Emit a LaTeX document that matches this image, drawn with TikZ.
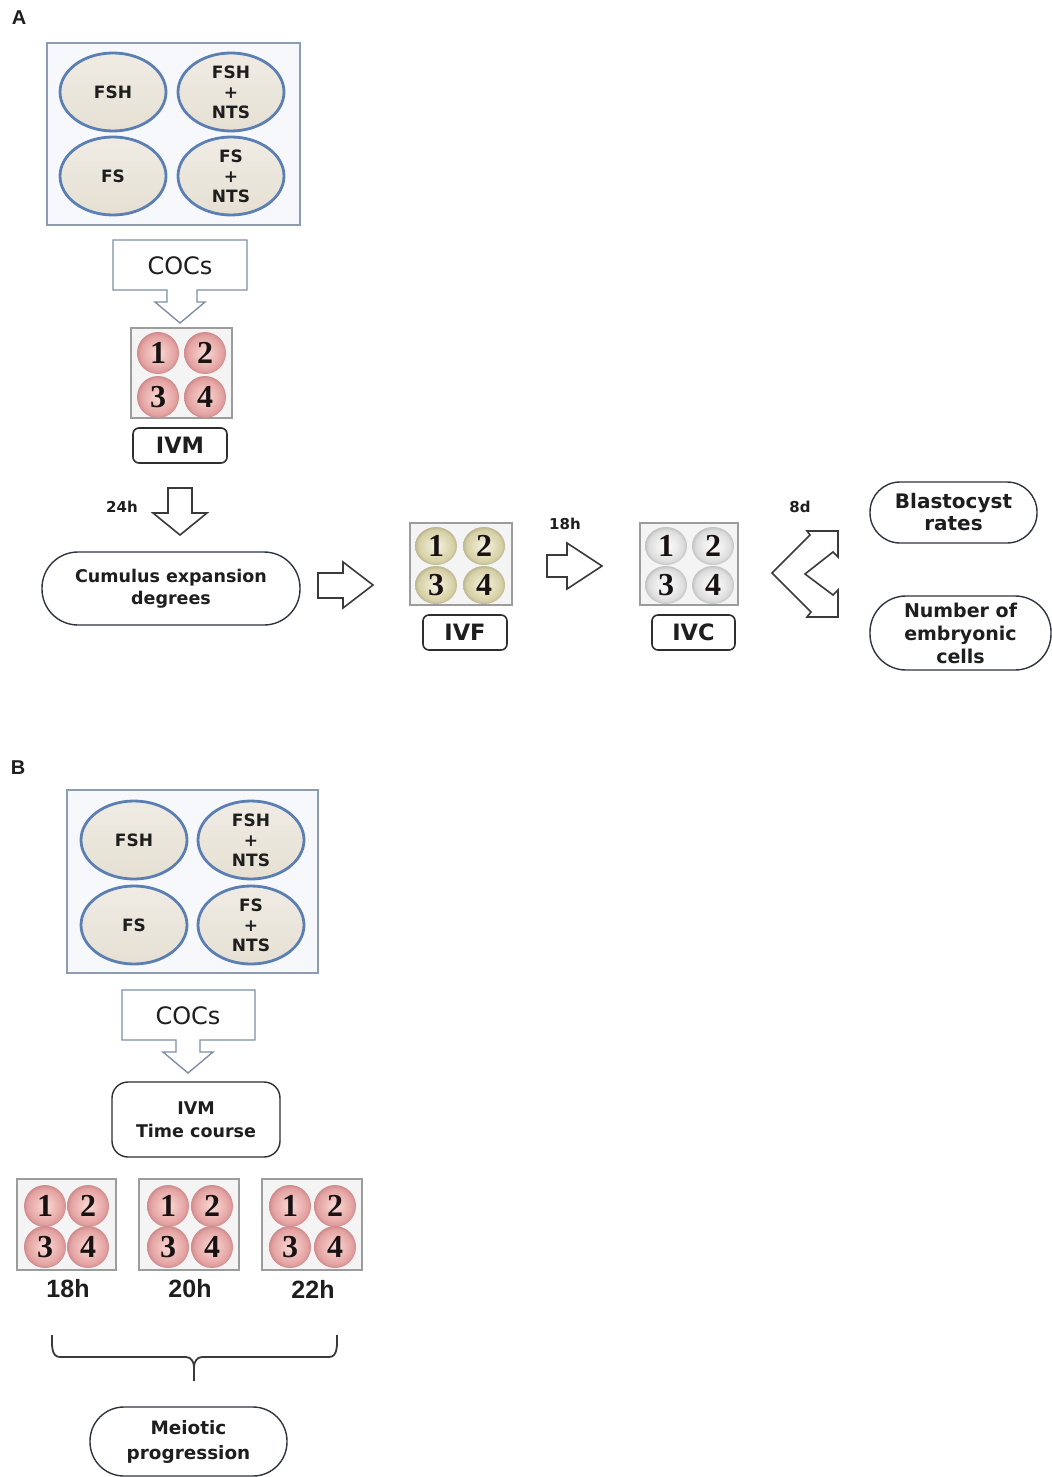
\documentclass[tikz,border=0pt]{standalone}
\usepackage{fontspec}
\setmainfont{DejaVu Sans}
\newfontfamily\dvs{DejaVu Sans}
\newfontfamily\lsans{Liberation Sans}
\newfontfamily\lser{Liberation Serif}
\usetikzlibrary{shapes.geometric}
\definecolor{txt}{HTML}{1E1E1E}
\definecolor{numc}{HTML}{1A1212}
\definecolor{pkA}{HTML}{F8DCD8}
\definecolor{pkB}{HTML}{EEBAB7}
\definecolor{pkC}{HTML}{E3A2A2}
\definecolor{pkD}{HTML}{CF8A8B}
\definecolor{olA}{HTML}{F5F3E6}
\definecolor{olB}{HTML}{E4DFBE}
\definecolor{olC}{HTML}{D6D0A6}
\definecolor{olD}{HTML}{BBB592}
\definecolor{gyA}{HTML}{FCFCFC}
\definecolor{gyB}{HTML}{EDEDED}
\definecolor{gyC}{HTML}{DCDCDC}
\definecolor{gyD}{HTML}{C2C2C2}
\definecolor{dishb}{HTML}{5B7FB3}
\definecolor{dishA}{HTML}{F0ECE5}
\definecolor{dishC}{HTML}{E6E0D3}
\definecolor{plb}{HTML}{8C9CB2}
\definecolor{plf}{HTML}{F6F8FB}
\definecolor{spb}{HTML}{9C9C9C}
\definecolor{spf}{HTML}{F4F4F4}
\definecolor{labb}{HTML}{2E2E2E}
\definecolor{stb}{HTML}{2F3440}
\definecolor{arb}{HTML}{3A3A3A}
\definecolor{cob}{HTML}{7F8FA6}
\pgfdeclareradialshading{pinkw}{\pgfpointorigin}{color(0bp)=(pkA); color(12bp)=(pkB); color(21bp)=(pkC); color(25bp)=(pkD); color(50bp)=(pkD)}
\pgfdeclareradialshading{olivew}{\pgfpointorigin}{color(0bp)=(olA); color(12bp)=(olB); color(21bp)=(olC); color(25bp)=(olD); color(50bp)=(olD)}
\pgfdeclareradialshading{grayw}{\pgfpointorigin}{color(0bp)=(gyA); color(12bp)=(gyB); color(21bp)=(gyC); color(25bp)=(gyD); color(50bp)=(gyD)}
\begin{document}
\begin{tikzpicture}[x=0.5pt,y=-0.5pt,
  tx/.style={inner sep=0pt,text=txt,align=center},
  dish/.style={ellipse,draw=dishb,line width=1.4pt,top color=dishA,bottom color=dishC,
    minimum width=53pt,minimum height=39pt,inner sep=0pt,align=center,text=txt,
    font=\dvs\bfseries\fontsize{8.5}{10}\selectfont},
  wellbase/.style={circle,minimum size=21pt,inner sep=0pt,text=numc,
    font=\lser\bfseries\fontsize{16}{16}\selectfont},
  pw/.style={wellbase,shading=pinkw},
  ow/.style={wellbase,ellipse,minimum width=21pt,minimum height=19pt,shading=olivew},
  gw/.style={wellbase,ellipse,minimum width=21pt,minimum height=19pt,shading=grayw},
  bigplate/.style={draw=plb,fill=plf,line width=0.8pt,inner sep=0pt},
  smallplate/.style={draw=spb,fill=spf,line width=0.6pt,inner sep=0pt},
  lab/.style={draw=labb,line width=0.8pt,rounded corners=3pt,fill=white,inner sep=0pt,
    minimum height=17.5pt,text=txt,font=\dvs\bfseries\fontsize{11.25}{12}\selectfont},
  stad/.style={draw=stb,line width=0.7pt,fill=white,inner sep=0pt,align=center,text=txt},
  barrow/.style={draw=arb,line width=0.8pt,fill=white,line join=miter},
  callout/.style={draw=cob,line width=0.7pt,fill=white,line join=miter},
  small/.style={tx,font=\dvs\bfseries\fontsize{7.5}{9}\selectfont},
  hours/.style={tx,font=\lsans\bfseries\fontsize{12.5}{14}\selectfont},
  coc/.style={tx,font=\dvs\fontsize{12}{14}\selectfont}
]
\useasboundingbox[fill=white] (0,0) rectangle (1052,1477);

% ================= A =================
\node[tx,font=\lsans\bfseries\fontsize{10}{12}\selectfont] (labA) at (19,18) {A};

\node[bigplate,minimum width=126.5pt,minimum height=91pt] (plA) at (173.5,134) {};
\node[dish] (a1) at (113,92) {FSH};
\node[dish] (a2) at (231,92) {FSH\\+\\NTS};
\node[dish] (a3) at (113,176) {FS};
\node[dish] (a4) at (231,176) {FS\\+\\NTS};

\draw[callout] (113,240) -- (247,240) -- (247,290) -- (197,290) -- (197,302) -- (205,302)
  -- (180,323) -- (155,302) -- (167,302) -- (167,290) -- (113,290) -- cycle;
\node[coc] (cocA) at (180,266) {COCs};

\node[smallplate,minimum width=50.5pt,minimum height=45pt] (ivmp) at (181.5,373) {};
\node[pw] (m1) at (158,353) {1};
\node[pw] (m2) at (205,353) {2};
\node[pw] (m3) at (158,397) {3};
\node[pw] (m4) at (205,397) {4};
\node[lab,minimum width=47pt] (ivm) at (180,445.5) {IVM};

\node[small] (t24) at (122,507) {24h};
\draw[barrow] (168,488) -- (192,488) -- (192,513) -- (207,513) -- (180,535) -- (153,513)
  -- (168,513) -- cycle;

\node[stad,minimum width=129pt,minimum height=36.5pt,rounded corners=18pt,
  font=\dvs\bfseries\fontsize{8.75}{11}\selectfont] (cum) at (171,588.5)
  {Cumulus expansion\\degrees};

\draw[barrow] (318,573) -- (343,573) -- (343,562) -- (373,585) -- (343,608) -- (343,598)
  -- (318,598) -- cycle;

\node[smallplate,minimum width=51pt,minimum height=41pt] (ivfp) at (461,564) {};
\node[ow] (f1) at (436,546) {1};
\node[ow] (f2) at (484,546) {2};
\node[ow] (f3) at (436,585) {3};
\node[ow] (f4) at (484,585) {4};
\node[lab,minimum width=42pt] (ivf) at (465,632.5) {IVF};

\node[small] (t18) at (565,524) {18h};
\draw[barrow] (547,555) -- (567,555) -- (567,543) -- (602,566) -- (567,589) -- (567,577)
  -- (547,577) -- cycle;

\node[smallplate,minimum width=49pt,minimum height=41pt] (ivcp) at (689,564) {};
\node[gw] (c1) at (666,546) {1};
\node[gw] (c2) at (713,546) {2};
\node[gw] (c3) at (666,585) {3};
\node[gw] (c4) at (713,585) {4};
\node[lab,minimum width=41.5pt] (ivc) at (693.5,632.5) {IVC};

\node[small] (t8) at (800,507) {8d};
\draw[barrow] (772,573) -- (810,535) -- (807,531) -- (838,531) -- (838,557) -- (833,552)
  -- (805,574) -- (833,595) -- (838,590) -- (838,617) -- (807,617) -- (811,612) -- cycle;

\node[stad,minimum width=83.5pt,minimum height=30.5pt,rounded corners=15pt,
  font=\dvs\bfseries\fontsize{10}{11}\selectfont] (blast) at (953.5,512.5)
  {Blastocyst\\rates};
\node[stad,minimum width=90.5pt,minimum height=37pt,rounded corners=18pt,
  font=\dvs\bfseries\fontsize{9.5}{11.5}\selectfont] (numb) at (960.5,633)
  {Number of\\embryonic\\cells};

% ================= B =================
\node[tx,font=\lsans\bfseries\fontsize{10}{12}\selectfont] (labB) at (18,768) {B};

\node[bigplate,minimum width=125.5pt,minimum height=91.5pt] (plB) at (192.5,881.5) {};
\node[dish] (b1) at (134,840) {FSH};
\node[dish] (b2) at (251,840) {FSH\\+\\NTS};
\node[dish] (b3) at (134,925) {FS};
\node[dish] (b4) at (251,925) {FS\\+\\NTS};

\draw[callout] (122,990) -- (255,990) -- (255,1040) -- (200,1040) -- (200,1052) -- (213,1052)
  -- (188,1073) -- (163,1052) -- (176,1052) -- (176,1040) -- (122,1040) -- cycle;
\node[coc] (cocB) at (188,1016) {COCs};

\node[stad,draw=labb,minimum width=84pt,minimum height=37.5pt,rounded corners=8pt,
  font=\dvs\bfseries\fontsize{8.75}{11.5}\selectfont] (ivmt) at (196,1119.5)
  {IVM\\Time course};

\node[smallplate,minimum width=49.5pt,minimum height=45.5pt] (p18) at (66.5,1224.5) {};
\node[pw] (p18a) at (45,1206) {1};
\node[pw] (p18b) at (88,1206) {2};
\node[pw] (p18c) at (45,1247) {3};
\node[pw] (p18d) at (88,1247) {4};
\node[smallplate,minimum width=50pt,minimum height=45.5pt] (p20) at (189,1224.5) {};
\node[pw] (p20a) at (168,1206) {1};
\node[pw] (p20b) at (212,1206) {2};
\node[pw] (p20c) at (168,1247) {3};
\node[pw] (p20d) at (212,1247) {4};
\node[smallplate,minimum width=50pt,minimum height=45.5pt] (p22) at (312,1224.5) {};
\node[pw] (p22a) at (290,1206) {1};
\node[pw] (p22b) at (335,1206) {2};
\node[pw] (p22c) at (290,1247) {3};
\node[pw] (p22d) at (335,1247) {4};

\node[hours] (h18) at (68,1289) {18h};
\node[hours] (h20) at (190,1289) {20h};
\node[hours] (h22) at (313,1289) {22h};

\draw[draw=arb,line width=0.9pt]
  (52,1335) to[out=-90,in=180] (60,1357) -- (186,1357) to[out=0,in=90] (194,1367) -- (194,1381);
\draw[draw=arb,line width=0.9pt]
  (337,1335) to[out=-90,in=0] (329,1357) -- (202,1357) to[out=180,in=90] (194,1367);

\node[stad,minimum width=98.5pt,minimum height=34.5pt,rounded corners=17pt,
  font=\dvs\bfseries\fontsize{9.2}{12.5}\selectfont] (meio) at (188.5,1441.5)
  {Meiotic\\progression};
\end{tikzpicture}
\end{document}
